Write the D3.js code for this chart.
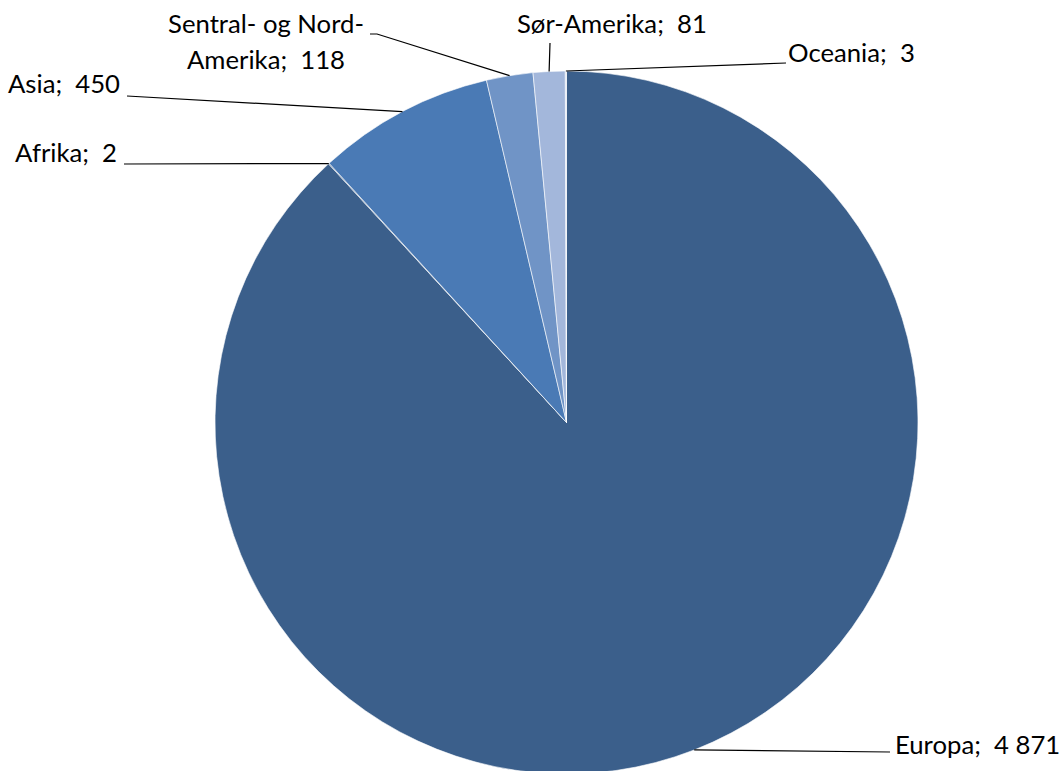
<!DOCTYPE html>
<html>
<head>
<meta charset="utf-8">
<script src="https://cdn.jsdelivr.net/npm/d3@7"></script>
<style>
  html, body { margin: 0; padding: 0; background: #fff; }
  svg { display: block; }
  text { font-family: Lato, "Noto Sans", sans-serif; fill: #000; }
</style>
</head>
<body>
<svg id="chart" width="1062" height="771"></svg>
<script>
// Regions, in drawing order (clockwise from 12 o'clock)
const regions = ["Europa", "Afrika", "Asia", "Sentral- og Nord-Amerika", "Sør-Amerika", "Oceania"];
const counts  = [4871, 2, 450, 118, 81, 3];
const labelText = ["Europa;  4 871", "Afrika;  2", "Asia;  450", ["Sentral- og Nord-", "Amerika;  118"], "Sør-Amerika;  81", "Oceania;  3"];
const sliceColors = ["#3b5f8b", "#2f4f78", "#4a7ab5", "#7094c6", "#a3b7db", "#c9d5eb"];

const width = 1062, height = 771;
const cx = 566.5, cy = 422.5, radius = 351.5;
const fontSize = 25.7;

// label placement: anchor point, text anchor, leader path end
const labelLayout = [
  { x: 895, y: 754, anchor: "start", lineTo: [[890, 752]] },
  { x: 117, y: 162, anchor: "end",   lineTo: [[124, 164]] },
  { x: 120, y: 93,  anchor: "end",   lineTo: [[127, 96]] },
  { x: 266, y: 33,  anchor: "middle", dy: 36, lineTo: [[377, 34], [370, 34]] },
  { x: 517, y: 33,  anchor: "start", lineTo: [[550, 43]] },
  { x: 788, y: 62,  anchor: "start", lineTo: [[786, 63]] }
];

const data = regions.map((r, i) => ({ region: r, value: counts[i], label: labelText[i], color: sliceColors[i], layout: labelLayout[i] }));

const svg = d3.select("#chart");
const g = svg.append("g").attr("transform", `translate(${cx},${cy})`);

const pie = d3.pie().value(d => d.value).sort(null);
const arc = d3.arc().innerRadius(0).outerRadius(radius);
const arcs = pie(data);

g.selectAll("path.slice")
  .data(arcs)
  .join("path")
  .attr("class", "slice")
  .attr("d", arc)
  .attr("fill", d => d.data.color)
  .attr("stroke", "#ffffff")
  .attr("stroke-width", 0.6)
  .attr("stroke-linejoin", "round");

// leader lines from the middle of each slice's rim to its label
const line = d3.line();
svg.selectAll("path.leader")
  .data(arcs)
  .join("path")
  .attr("class", "leader")
  .attr("d", d => {
    const mid = (d.startAngle + d.endAngle) / 2;
    const p0 = [cx + radius * Math.sin(mid), cy - radius * Math.cos(mid)];
    const pts = [p0].concat(d.data.layout.lineTo);
    return line(pts);
  })
  .attr("fill", "none")
  .attr("stroke", "#000")
  .attr("stroke-width", 1.2);

const labels = svg.selectAll("text.lbl")
  .data(data)
  .join("text")
  .attr("class", "lbl")
  .attr("x", d => d.layout.x)
  .attr("y", d => d.layout.y)
  .attr("text-anchor", d => d.layout.anchor)
  .style("font-size", fontSize + "px");

labels.each(function(d) {
  const t = d3.select(this);
  const lines = Array.isArray(d.label) ? d.label : [d.label];
  lines.forEach((s, i) => {
    t.append("tspan")
      .attr("x", d.layout.x)
      .attr("dy", i === 0 ? 0 : d.layout.dy)
      .style("white-space", "pre")
      .text(s);
  });
});
</script>
</body>
</html>
